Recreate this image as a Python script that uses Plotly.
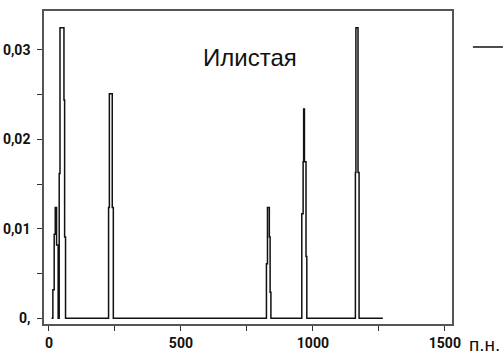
import plotly.graph_objects as go

# fragment size (bp) and relative abundance, stepwise profile
bp = [10, 15, 20, 24, 29, 35, 39, 42, 57, 59.5, 63,
      226, 229, 240, 244,
      824, 828, 835, 838, 841,
      958, 963, 965, 968, 974, 977,
      1161, 1163, 1171, 1175, 1265]
value = [0, 0.0032, 0.0094, 0.0124, 0.0082, 0, 0.0162, 0.0325, 0.0244, 0.0091, 0,
         0.0124, 0.0251, 0.0124, 0,
         0.0061, 0.0124, 0.0091, 0.0029, 0,
         0.0117, 0.0175, 0.0234, 0.0175, 0.0069, 0,
         0.0163, 0.0325, 0.0163, 0, 0]

x_major = [0, 500, 1000, 1500]
x_major_text = ["0", "500", "1000", "1500"]
x_minor = [250, 750, 1250]
y_major = [0, 0.01, 0.02, 0.03]
y_major_text = ["0,", "0,01", "0,02", "0,03"]
y_minor = [0.005, 0.015, 0.025]

series_name = " "
title_text = "Илистая"
x_unit = "п.н."

tick_font = dict(family="Roboto, Liberation Sans Narrow, sans-serif",
                 size=14, color="#111111", weight="bold")

fig = go.Figure()
fig.add_trace(go.Scatter(x=bp, y=value, mode="lines", line_shape="hv",
                         line=dict(color="#111111", width=1.5), name=series_name))

axis_common = dict(showline=True, mirror=True, linecolor="#555555", linewidth=1.5,
                   showgrid=False, zeroline=False, ticks="outside", ticklen=5,
                   tickcolor="#333333", tickwidth=1, tickfont=tick_font)

fig.update_xaxes(range=[-18.6, 1527], tickmode="array", tickvals=x_major, ticktext=x_major_text,
                 minor=dict(tickvals=x_minor, ticks="outside", ticklen=5, tickcolor="#333333"),
                 **axis_common)
fig.update_yaxes(range=[-0.00064, 0.03436], tickmode="array", tickvals=y_major, ticktext=y_major_text,
                 minor=dict(tickvals=y_minor, ticks="outside", ticklen=5, tickcolor="#333333"),
                 ticklabelstandoff=4, **axis_common)

fig.add_annotation(text=title_text, xref="paper", yref="paper", x=0.505, y=0.853,
                   xanchor="center", yanchor="middle",
                   showarrow=False, font=dict(family="Liberation Sans, Arial, sans-serif", size=24, color="#111111"))
fig.add_annotation(text=x_unit, xref="paper", yref="paper", x=1.08, y=-0.067,
                   xanchor="center", yanchor="middle",
                   showarrow=False, font=dict(family="Liberation Sans, Arial, sans-serif", size=19, color="#111111"))

fig.update_layout(width=504, height=356,
                  margin=dict(l=44, r=52, t=11, b=32, autoexpand=False),
                  paper_bgcolor="white", plot_bgcolor="white",
                  showlegend=True,
                  legend=dict(x=1.039, y=0.939, xanchor="left", yanchor="top",
                              font=dict(family="Liberation Sans, Arial, sans-serif", size=16, color="#111111"),
                              bgcolor="rgba(0,0,0,0)"))

fig.write_html("out.html")
